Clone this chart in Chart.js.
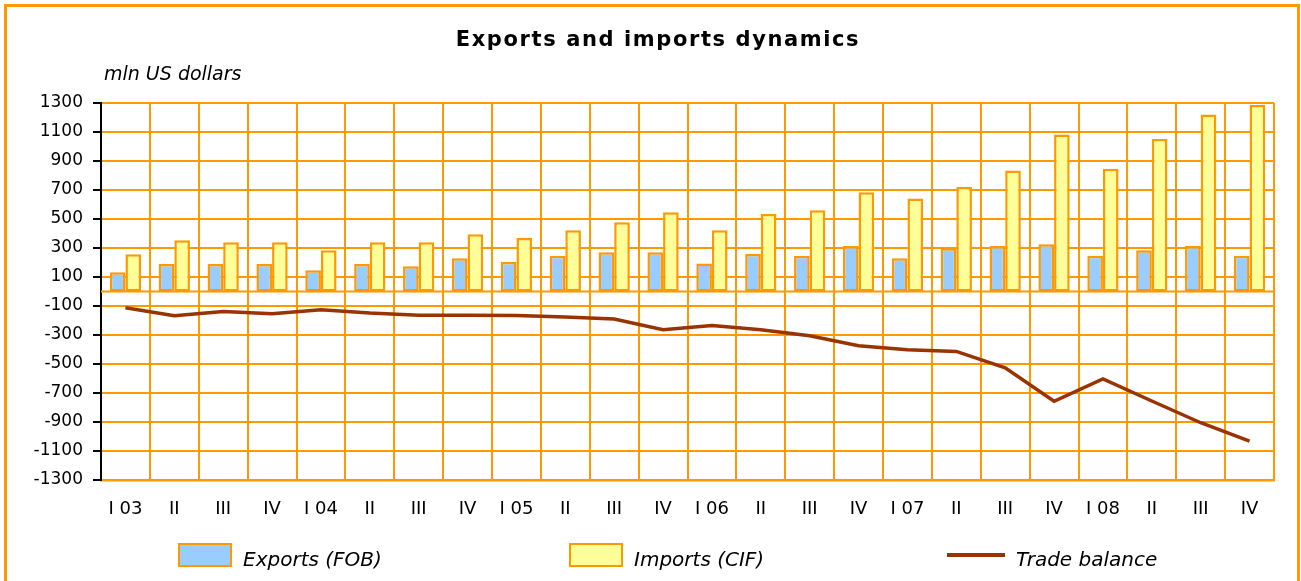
<!DOCTYPE html>
<html><head><meta charset="utf-8">
<script src="https://cdn.jsdelivr.net/npm/chart.js@4"></script>
<style>html,body{margin:0;padding:0;background:#fff;overflow:hidden}canvas{display:block}</style>
</head><body>
<canvas id="c" width="1301" height="581"></canvas>
<script>
const categories = ['I 03','II','III','IV','I 04','II','III','IV','I 05','II','III','IV','I 06','II','III','IV','I 07','II','III','IV','I 08','II','III','IV'];
const exportsFOB = [133,190,190,190,147,190,175,230,204,246,271,271,193,259,246,314,230,299,314,326,246,285,314,246];
const importsCIF = [257,353,340,340,285,340,340,395,369,422,477,546,422,534,560,684,642,722,835,1083,846,1052,1220,1286];
const tradeBalance = [-112,-167,-138,-153,-126,-149,-163,-163,-165,-176,-190,-264,-234,-264,-305,-374,-401,-413,-527,-757,-603,-755,-905,-1032];
const yTickValues = [1300,1100,900,700,500,300,100,-100,-300,-500,-700,-900,-1100,-1300];
const seriesNames = ['Exports (FOB)','Imports (CIF)','Trade balance'];
const chartTitle = 'Exports and imports dynamics';
const unitLabel = 'mln US dollars';

const ORANGE = '#FF9900';
const FONT = '"DejaVu Sans", Verdana, sans-serif';
Chart.defaults.font.family = FONT;
Chart.defaults.color = '#000';

const decor = {
  id: 'decor',
  beforeDatasetsDraw(chart) {
    const ctx = chart.ctx, a = chart.chartArea;
    const y = chart.scales.y.getPixelForValue(0);
    ctx.save();
    ctx.strokeStyle = ORANGE; ctx.lineWidth = 2;
    ctx.beginPath(); ctx.moveTo(a.left, y); ctx.lineTo(a.right, y); ctx.stroke();
    ctx.restore();
  },
  afterDraw(chart) {
    const ctx = chart.ctx;
    ctx.save();
    // frame
    ctx.strokeStyle = ORANGE; ctx.lineWidth = 3;
    ctx.strokeRect(5.5, 5.5, 1293, 620);
    ctx.fillStyle = '#000';
    // title
    ctx.letterSpacing = '1.6px';
    ctx.font = 'bold 21px ' + FONT;
    ctx.textAlign = 'center'; ctx.textBaseline = 'alphabetic';
    ctx.fillText(chartTitle, 658, 46);
    ctx.letterSpacing = '0px';
    // unit label
    ctx.font = 'italic 19px ' + FONT;
    ctx.textAlign = 'left';
    ctx.fillText(unitLabel, 104, 80);
    // legend
    const ds = chart.data.datasets;
    const slots = [{x:178, tx:243}, {x:569, tx:634}, {x:947, tx:1016}];
    ctx.font = 'italic 20px ' + FONT;
    ds.forEach((d, i) => {
      const s = slots[i];
      if (d.type === 'line') {
        ctx.strokeStyle = d.borderColor; ctx.lineWidth = 4;
        ctx.beginPath(); ctx.moveTo(s.x, 555); ctx.lineTo(s.x + 58, 555); ctx.stroke();
      } else {
        ctx.fillStyle = d.backgroundColor;
        ctx.fillRect(s.x, 543, 54, 24);
        ctx.strokeStyle = d.borderColor; ctx.lineWidth = 2;
        ctx.strokeRect(s.x + 1, 544, 52, 22);
      }
      ctx.fillStyle = '#000';
      ctx.fillText(d.label, s.tx, 566);
    });
    ctx.restore();
  }
};

new Chart(document.getElementById('c'), {
  data: {
    labels: categories,
    datasets: [
      {type:'bar', label: seriesNames[0], data: exportsFOB, backgroundColor:'#99CCFF', borderColor: ORANGE, borderWidth:2.5, borderSkipped:false, categoryPercentage:0.64, barPercentage:1, order:2},
      {type:'bar', label: seriesNames[1], data: importsCIF, backgroundColor:'#FFFF99', borderColor: ORANGE, borderWidth:2.5, borderSkipped:false, categoryPercentage:0.64, barPercentage:1, order:2},
      {type:'line', label: seriesNames[2], data: tradeBalance, borderColor:'#993300', backgroundColor:'#993300', borderWidth:3.5, pointRadius:0, tension:0, order:1}
    ]
  },
  options: {
    responsive: false,
    animation: false,
    devicePixelRatio: 1,
    layout: {padding: {top:103, right:27, bottom:0, left:0}},
    plugins: {legend:{display:false}, tooltip:{enabled:false}, title:{display:false}},
    scales: {
      x: {
        grid: {color: ORANGE, lineWidth:2, offset:true, drawTicks:false},
        border: {color: ORANGE, width:2.5},
        ticks: {color:'#000', font:{size:18}, padding:19, maxRotation:0, autoSkip:false},
        afterFit(s) { s.height = 101; }
      },
      y: {
        min: -1300, max: 1300,
        afterBuildTicks(s) { s.ticks = yTickValues.map(v => ({value: v})); },
        grid: {color: ORANGE, lineWidth:2, tickColor:'#000', tickLength:8, tickWidth:2},
        border: {color:'#000', width:2},
        ticks: {color:'#000', font:{size:17}, padding:10, callback: v => String(v)},
        afterFit(s) { s.width = 101; }
      }
    }
  },
  plugins: [decor]
});
</script>
</body></html>
